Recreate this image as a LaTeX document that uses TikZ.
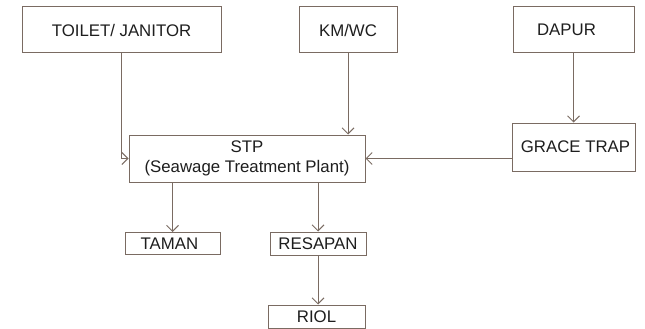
\documentclass[tikz,border=0pt]{standalone}
\usepackage{xcolor}
\usepackage{tikz}
\usepackage{fontspec}
\setmainfont{Liberation Sans}
\usetikzlibrary{arrows.meta}
\definecolor{BoxBrown}{HTML}{7A6B62}
\definecolor{TextDark}{HTML}{1E1E1E}

\tikzset{
  unitbox/.style={draw=BoxBrown, line width=1pt, fill=white, inner sep=0pt,
                  align=center, text=TextDark,
                  font=\fontsize{16.8}{20}\selectfont},
  flow/.style={draw=BoxBrown, line width=1pt,
               -{Straight Barb[length=6pt,width=12pt]}}
}

\begin{document}
\begin{tikzpicture}[x=1pt, y=-1pt]
        \useasboundingbox (0,0) rectangle (645,329);
        % sources
        \node[unitbox, minimum width=199pt, minimum height=46pt] (toilet) at (121.5,30) {TOILET/ JANITOR};
        \node[unitbox, minimum width=98pt, minimum height=46pt] (kmwc) at (348,30) {KM/WC};
        \node[unitbox, minimum width=121pt, minimum height=46pt] (dapur) at (573.5,30) {\hspace*{-14pt}DAPUR};
        % treatment
        \node[unitbox, minimum width=123pt, minimum height=48pt] (grace) at (573.5,147) {\hspace*{4pt}GRACE TRAP};
        \node[unitbox, minimum width=236pt, minimum height=47pt] (stp) at (247,158.5) {STP\\(Seawage Treatment Plant)};
        % outlets
        \node[unitbox, minimum width=95pt, minimum height=22pt] (taman) at (172.5,243.5) {\hspace*{-6pt}TAMAN};
        \node[unitbox, minimum width=96pt, minimum height=23pt] (resapan) at (318,243.5) {RESAPAN};
        \node[unitbox, minimum width=97pt, minimum height=23pt] (riol) at (316.5,316.5) {RIOL};

        \draw[flow] (toilet.south) |- (stp.west);
        \draw[flow] (kmwc.south) -- (kmwc.south |- stp.north);
        \draw[flow] (dapur.south) -- (grace.north);
        \draw[flow] (grace.west |- stp.east) -- (stp.east);
        \draw[flow] (stp.south -| taman.north) -- (taman.north);
        \draw[flow] (stp.south -| resapan.north) -- (resapan.north);
        \draw[flow] (resapan.south) -- (resapan.south |- riol.north);
      \end{tikzpicture}
\end{document}
